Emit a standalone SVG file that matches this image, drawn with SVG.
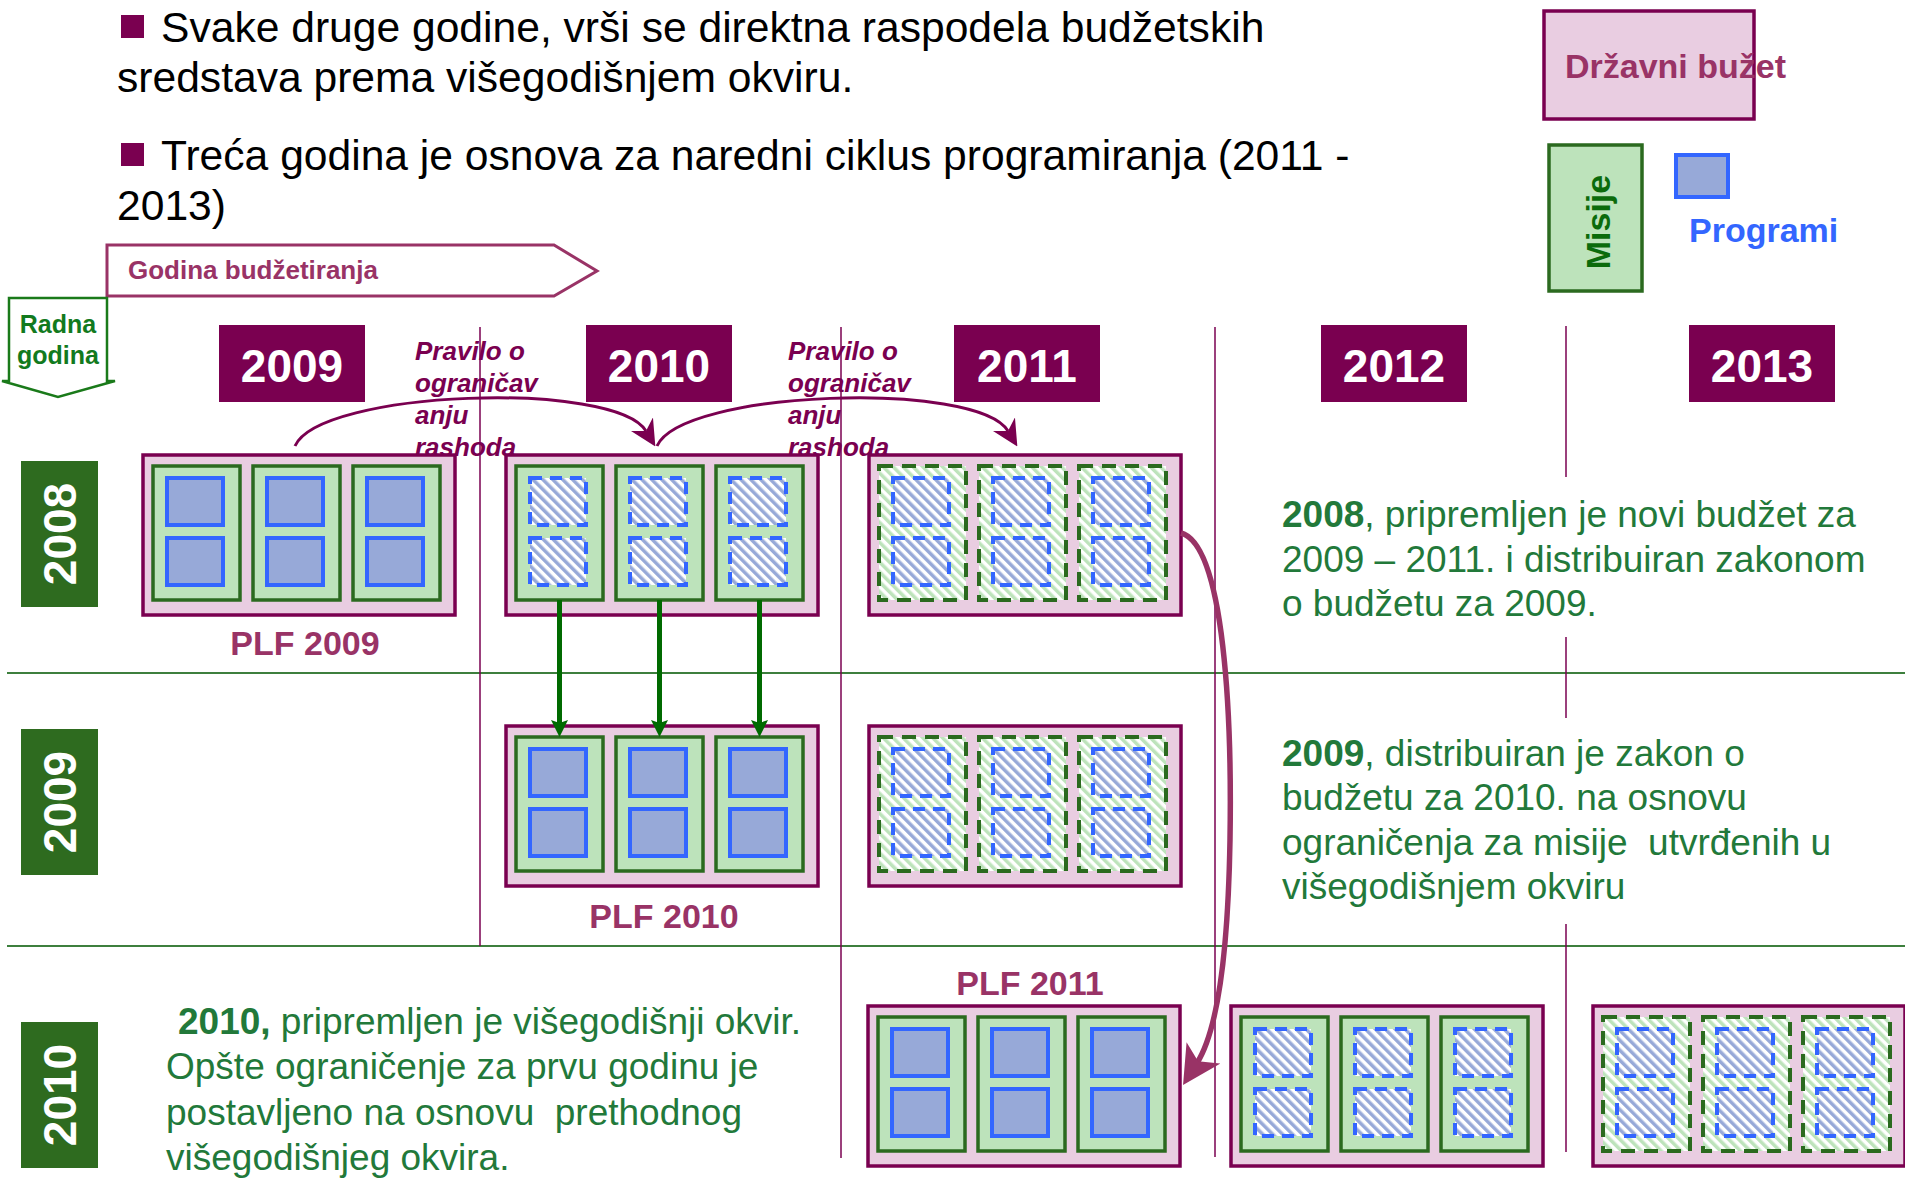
<svg xmlns="http://www.w3.org/2000/svg" width="1905" height="1178" viewBox="0 0 1905 1178">
<style>
text{font-family:"Liberation Sans",Arial,Helvetica,sans-serif}
.outer{fill:#e9cde1;stroke:#7a0050;stroke-width:3.5}
.mis{fill:#bde3bb;stroke:#2b6a1f;stroke-width:3.5}
.misH{fill:url(#hatchG);stroke:#2b6a1f;stroke-width:4;stroke-dasharray:14 9}
.prg{fill:#97a9d8;stroke:#3366ff;stroke-width:4}
.prgH{fill:url(#hatchB);stroke:#3366ff;stroke-width:4;stroke-dasharray:12 8}
.yr{fill:#7a0050}
.yrt{fill:#fff;font-weight:bold;font-size:46px;text-anchor:middle}
.rowb{fill:#2e6b1f}
.plf{fill:#993366;font-weight:bold;font-size:34px;text-anchor:middle}
.rule{fill:#7a0050;font-weight:bold;font-style:italic;font-size:26px}
.body{fill:#22793a;font-size:37px}
.top{fill:#000;font-size:42.6px}
.vl{stroke:#7a0050;stroke-width:1.5;fill:none}
.hl{stroke:#3d7f3d;stroke-width:2;fill:none}
.carc{stroke:#7a0050;stroke-width:3;fill:none}
.garr{stroke:#006a00;stroke-width:5;fill:none}
.big{stroke:#993366;stroke-width:5.5;fill:none}
</style>
<defs>
<pattern id="hatchB" width="7" height="7" patternUnits="userSpaceOnUse" patternTransform="rotate(-45)"><rect width="7" height="7" fill="#fff"/><rect width="3.5" height="7" fill="#97a9d8"/></pattern>
<pattern id="hatchG" width="7" height="7" patternUnits="userSpaceOnUse" patternTransform="rotate(-45)"><rect width="7" height="7" fill="#fff"/><rect width="3.5" height="7" fill="#bde3bb"/></pattern>
<marker id="mM" markerUnits="userSpaceOnUse" markerWidth="26" markerHeight="26" viewBox="0 0 26 26" refX="8" refY="13" orient="auto"><path d="M0,0 L26,13 L0,26 L8,13 z" fill="#7a0050"/></marker>
<marker id="mG" markerUnits="userSpaceOnUse" markerWidth="17" markerHeight="17" viewBox="0 0 17 17" refX="5" refY="8.5" orient="auto"><path d="M0,0 L17,8.5 L0,17 L3,8.5 z" fill="#006a00"/></marker>
<marker id="mB" markerUnits="userSpaceOnUse" markerWidth="38" markerHeight="40" viewBox="0 0 38 40" refX="12" refY="20" orient="auto"><path d="M0,0 L38,20 L0,40 L10,20 z" fill="#993366"/></marker>
<g id="tA">
<rect class="outer" x="0" y="0" width="312" height="160"/>
<rect class="mis" x="10" y="11" width="87" height="134"/><rect class="mis" x="110" y="11" width="87" height="134"/><rect class="mis" x="210" y="11" width="87" height="134"/>
<rect class="prg" x="24" y="23" width="56" height="47"/><rect class="prg" x="24" y="83" width="56" height="47"/>
<rect class="prg" x="124" y="23" width="56" height="47"/><rect class="prg" x="124" y="83" width="56" height="47"/>
<rect class="prg" x="224" y="23" width="56" height="47"/><rect class="prg" x="224" y="83" width="56" height="47"/>
</g>
<g id="tB">
<rect class="outer" x="0" y="0" width="312" height="160"/>
<rect class="mis" x="10" y="11" width="87" height="134"/><rect class="mis" x="110" y="11" width="87" height="134"/><rect class="mis" x="210" y="11" width="87" height="134"/>
<rect class="prgH" x="24" y="23" width="56" height="47"/><rect class="prgH" x="24" y="83" width="56" height="47"/>
<rect class="prgH" x="124" y="23" width="56" height="47"/><rect class="prgH" x="124" y="83" width="56" height="47"/>
<rect class="prgH" x="224" y="23" width="56" height="47"/><rect class="prgH" x="224" y="83" width="56" height="47"/>
</g>
<g id="tC">
<rect class="outer" x="0" y="0" width="312" height="160"/>
<rect class="misH" x="10" y="11" width="87" height="134"/><rect class="misH" x="110" y="11" width="87" height="134"/><rect class="misH" x="210" y="11" width="87" height="134"/>
<rect class="prgH" x="24" y="23" width="56" height="47"/><rect class="prgH" x="24" y="83" width="56" height="47"/>
<rect class="prgH" x="124" y="23" width="56" height="47"/><rect class="prgH" x="124" y="83" width="56" height="47"/>
<rect class="prgH" x="224" y="23" width="56" height="47"/><rect class="prgH" x="224" y="83" width="56" height="47"/>
</g>
</defs>
<rect width="1905" height="1178" fill="#fff"/>

<g id="intro">
<rect x="121" y="15" width="23" height="23" fill="#7a0050"/>
<text class="top" x="161" y="42">Svake druge godine, vrši se direktna raspodela budžetskih</text>
<text class="top" x="117" y="92">sredstava prema višegodišnjem okviru.</text>
<rect x="121" y="143" width="23" height="23" fill="#7a0050"/>
<text class="top" x="161" y="170">Treća godina je osnova za naredni ciklus programiranja (2011 -</text>
<text class="top" x="117" y="220">2013)</text>
</g>

<g id="legend-budzet">
<rect x="1544" y="11" width="210" height="108" fill="#e9cde1" stroke="#7a0050" stroke-width="3.5"/>
<text x="1565" y="78" fill="#993366" font-weight="bold" font-size="34">Državni bužet</text>
</g>
<g id="legend-misije">
<rect x="1549" y="145" width="93" height="146" fill="#bde3bb" stroke="#2b6a1f" stroke-width="3.5"/>
<text transform="rotate(-90 1598 222)" x="1598" y="234" fill="#0b6b0b" font-weight="bold" font-size="34" text-anchor="middle">Misije</text>
</g>
<g id="legend-programi">
<rect x="1676" y="155" width="52" height="42" fill="#97a9d8" stroke="#3366ff" stroke-width="4"/>
<text x="1689" y="242" fill="#3366ff" font-weight="bold" font-size="34">Programi</text>
</g>

<g id="godina-budzetiranja">
<path d="M107,245 L554,245 L597,271 L554,296 L107,296 Z" fill="#fff" stroke="#993366" stroke-width="3"/>
<text x="128" y="279" fill="#993366" font-weight="bold" font-size="26">Godina budžetiranja</text>
</g>
<g id="radna-godina">
<path d="M9,298 L107,298 L107,381 L115,381 L58,397 L2,381 L9,381 Z" fill="#fff" stroke="#1a7a1a" stroke-width="2.5"/>
<text x="58" y="333" fill="#127a1e" font-weight="bold" font-size="25" text-anchor="middle">Radna</text>
<text x="58" y="364" fill="#127a1e" font-weight="bold" font-size="25" text-anchor="middle">godina</text>
</g>

<g id="grid">
<line class="hl" x1="7" y1="673" x2="1905" y2="673"/>
<line class="hl" x1="7" y1="946" x2="1905" y2="946"/>
<line class="vl" x1="480" y1="327" x2="480" y2="946"/>
<line class="vl" x1="841" y1="327" x2="841" y2="1158"/>
<line class="vl" x1="1215" y1="327" x2="1215" y2="1157"/>
<line class="vl" x1="1566" y1="326" x2="1566" y2="477"/>
<line class="vl" x1="1566" y1="637" x2="1566" y2="718"/>
<line class="vl" x1="1566" y1="924" x2="1566" y2="1152"/>
</g>

<g id="year-2009"><rect class="yr" x="219" y="325" width="146" height="77"/><text class="yrt" x="292" y="382">2009</text></g>
<g id="year-2010"><rect class="yr" x="586" y="325" width="146" height="77"/><text class="yrt" x="659" y="382">2010</text></g>
<g id="year-2011"><rect class="yr" x="954" y="325" width="146" height="77"/><text class="yrt" x="1027" y="382">2011</text></g>
<g id="year-2012"><rect class="yr" x="1321" y="325" width="146" height="77"/><text class="yrt" x="1394" y="382">2012</text></g>
<g id="year-2013"><rect class="yr" x="1689" y="325" width="146" height="77"/><text class="yrt" x="1762" y="382">2013</text></g>

<g id="row-2008"><rect class="rowb" x="21" y="461" width="77" height="146"/><text class="yrt" transform="rotate(-90 59.5 534)" x="59.5" y="550.5">2008</text></g>
<g id="row-2009"><rect class="rowb" x="21" y="729" width="77" height="146"/><text class="yrt" transform="rotate(-90 59.5 802)" x="59.5" y="818.5">2009</text></g>
<g id="row-2010"><rect class="rowb" x="21" y="1022" width="77" height="146"/><text class="yrt" transform="rotate(-90 59.5 1095)" x="59.5" y="1111.5">2010</text></g>

<g id="rule-1">
<text class="rule" x="415" y="360">Pravilo o</text>
<text class="rule" x="415" y="392">ograničav</text>
<text class="rule" x="415" y="424">anju</text>
<text class="rule" x="415" y="456">rashoda</text>
</g>
<g id="rule-2">
<text class="rule" x="788" y="360">Pravilo o</text>
<text class="rule" x="788" y="392">ograničav</text>
<text class="rule" x="788" y="424">anju</text>
<text class="rule" x="788" y="456">rashoda</text>
</g>

<g id="plf2009-r2008"><use href="#tA" x="143" y="455"/></g>
<g id="plf2010-r2008"><use href="#tB" x="506" y="455"/></g>
<g id="plf2011-r2008"><use href="#tC" x="869" y="455"/></g>
<g id="plf2010-r2009"><use href="#tA" x="506" y="726"/></g>
<g id="plf2011-r2009"><use href="#tC" x="869" y="726"/></g>
<g id="plf2011-r2010"><use href="#tA" x="868" y="1006"/></g>
<g id="plf2012-r2010"><use href="#tB" x="1231" y="1006"/></g>
<g id="plf2013-r2010"><use href="#tC" x="1593" y="1006"/></g>

<g id="labels">
<text class="plf" x="305" y="655">PLF 2009</text>
<text class="plf" x="664" y="928">PLF 2010</text>
<text class="plf" x="1030" y="995">PLF 2011</text>
</g>

<g id="notes">
<text class="body" x="1282" y="527"><tspan font-weight="bold">2008</tspan>, pripremljen je novi budžet za</text>
<text class="body" x="1282" y="572">2009 – 2011. i distribuiran zakonom</text>
<text class="body" x="1282" y="616">o budžetu za 2009.</text>
<text class="body" x="1282" y="766"><tspan font-weight="bold">2009</tspan>, distribuiran je zakon o</text>
<text class="body" x="1282" y="810">budžetu za 2010. na osnovu</text>
<text class="body" x="1282" y="855" xml:space="preserve">ograničenja za misije  utvrđenih u</text>
<text class="body" x="1282" y="899">višegodišnjem okviru</text>
<text class="body" x="178" y="1034"><tspan font-weight="bold">2010,</tspan> pripremljen je višegodišnji okvir.</text>
<text class="body" x="166" y="1079">Opšte ograničenje za prvu godinu je</text>
<text class="body" x="166" y="1125" xml:space="preserve">postavljeno na osnovu  prethodnog</text>
<text class="body" x="166" y="1170">višegodišnjeg okvira.</text>
</g>

<g id="connectors">
<path class="carc" d="M295,446 C320,390 615,380 646,431" marker-end="url(#mM)"/>
<path class="carc" d="M657,446 C682,390 977,380 1008,431" marker-end="url(#mM)"/>
<path class="garr" d="M559.5,600 L559.5,725" marker-end="url(#mG)"/>
<path class="garr" d="M659.5,600 L659.5,725" marker-end="url(#mG)"/>
<path class="garr" d="M759.5,600 L759.5,725" marker-end="url(#mG)"/>
<path class="big" d="M1181,533 C1225,545 1232,720 1230,840 C1228,955 1218,1030 1197,1063" marker-end="url(#mB)"/>
</g>
</svg>
